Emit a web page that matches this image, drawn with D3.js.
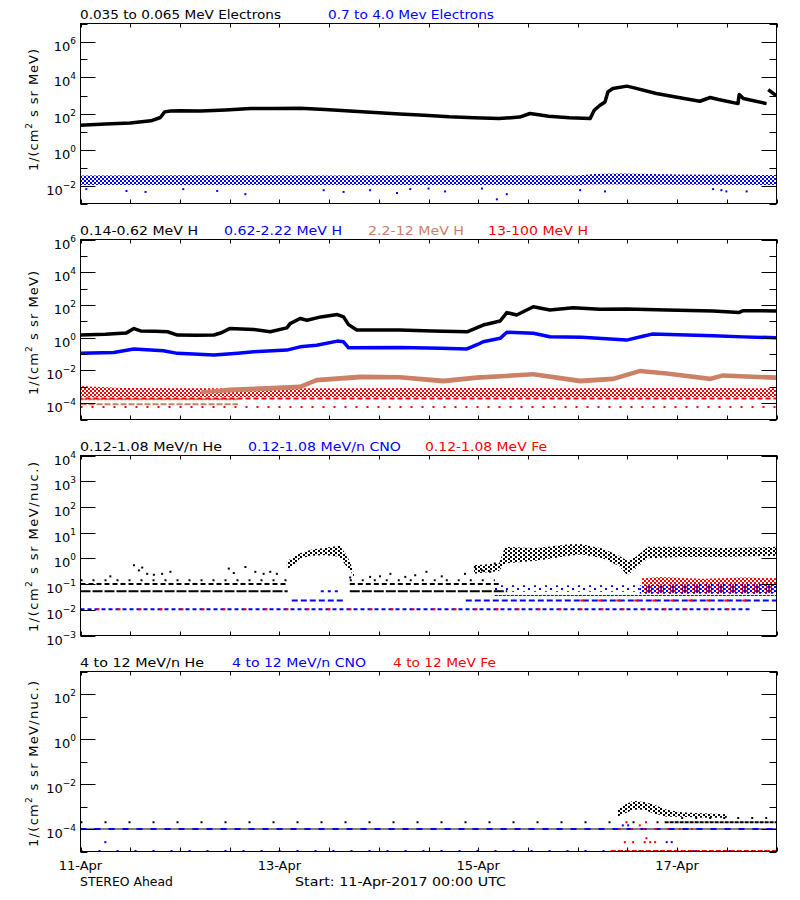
<!DOCTYPE html>
<html><head><meta charset="utf-8">
<script src="https://cdn.jsdelivr.net/npm/d3@7"></script>
<style>
body{margin:0;background:#fff}
svg{display:block}
text{font-family:"DejaVu Sans",sans-serif;font-size:13px}
</style>
</head><body>
<svg id="c" width="800" height="900"></svg>
<script>
// ================= DATA =================
const START = Date.UTC(2017, 3, 11);          // 11-Apr-2017 00:00 UTC
const SPAN_HOURS = 168;
const xTickHours = [0,12,24,36,48,60,72,84,96,108,120,132,144,156,168];
const xLabelHours = [0,48,96,144];

// ---- Panel 1: electrons ----
const p1Titles = ["0.035 to 0.065 MeV Electrons", "0.7 to 4.0 Mev Electrons"];
const eLowT = [0,6,12,17,19.3,20.3,21.7,24,29,35,41,47,53,59,65,71,77,83,89,95,101,106,108.5,111,113,118,123,124,125.4,126.6,127.3,128.5,131.9,133.4,139,144,149.5,152,154,158.7,159,160,165.6,165.8,166,168];
const eLowV = [22,26,30,39,60,123,138,141,138,158,190,190,195,166,138,115,93,79,65,58,52,63,100,83,71,58,52,151,288,437,1585,2455,3311,2754,1288,794,479,776,603,355,1122,676,355,null,2138,955];
const eHighT  = [0,30,60,90,120,124,130,145,168];
const eHighLo = [0.0105,0.0105,0.0105,0.0105,0.0105,0.0112,0.0115,0.011,0.0105];
const eHighHi = [0.036,0.037,0.036,0.037,0.036,0.044,0.046,0.041,0.038];
const eHighOutT = [1.4,11.1,15.7,24.8,33,39.8,58.7,63.5,69.9,76.4,79.6,84,88,96.9,102.9,100.5,120.6,126.6,152.7,154.7,155.9,160.8];
const eHighOutV = [0.0063,0.005,0.0044,0.0063,0.005,0.0033,0.0055,0.0044,0.0055,0.0038,0.0063,0.0068,0.0047,0.0068,0.0033,0.0017,0.0055,0.0047,0.0063,0.0055,0.0047,0.0047];

// ---- Panel 2: protons ----
const p2Titles = ["0.14-0.62 MeV H", "0.62-2.22 MeV H", "2.2-12 MeV H", "13-100 MeV H"];
const hLowT = [0,6,11,12.9,14.5,18,21,23.4,28,32.2,34,36,41.8,45.8,49.8,50.6,53,54.7,58,62,63.5,64.7,66.7,77,85,93.3,97.2,101.3,102.9,105.3,107.7,109.3,113.3,118.9,125.4,131.8,141.5,152.7,159,160,168];
const hLowV = [1.45,1.6,1.9,3.6,2.6,2.5,2.3,1.45,1.4,1.45,2.0,3.6,3.2,2.3,4.0,7.2,14.8,11.7,18.6,26,18.6,6.3,2.95,2.95,2.6,2.3,5.9,10.5,34,24.5,49,78,49,68,54,56,49,43,35,45,43];
const hMidT = [0,8,12.9,20,23.4,32.2,38,41.8,49.8,53,57,62,63.5,64.7,77,87,93.3,96,97.2,101.3,102.9,109.3,113.3,121,131.8,136,138,152.7,160,168];
const hMidV = [0.11,0.126,0.204,0.158,0.11,0.087,0.112,0.138,0.174,0.275,0.347,0.617,0.562,0.24,0.25,0.224,0.204,0.398,0.562,0.912,2.14,1.86,1.15,1.05,0.71,1.26,1.66,1.32,1.12,1.0];
const hHighT  = [29,36,45,53,57,67.5,77,87.6,95.7,109.3,120.6,128.6,135,141.5,152,155,168];
const hHighLo = [3.6e-4,4.5e-4,5.6e-4,7.1e-4,1.8e-3,2.8e-3,2.8e-3,1.6e-3,2.6e-3,4.2e-3,1.6e-3,2.2e-3,6.6e-3,4.8e-3,2.2e-3,3.5e-3,2.6e-3];
const hHighHi = [6.0e-4,8.9e-4,1.1e-3,1.4e-3,3.5e-3,5.6e-3,5.2e-3,3.2e-3,5.0e-3,7.9e-3,3.2e-3,4.2e-3,1.26e-2,8.9e-3,4.2e-3,6.6e-3,5.0e-3];
const hHighLevels = [[0,38,1.75e-4],[0,38,8.7e-5]];
const hVHighT  = [0,10,30,60,90,120,150,168];
const hVHighLo = [2.3e-4,2.4e-4,2.4e-4,2.4e-4,2.4e-4,2.4e-4,2.4e-4,2.4e-4];
const hVHighHi = [1.1e-3,8.5e-4,8e-4,8e-4,8.5e-4,8e-4,8.5e-4,8e-4];
const hVHighLevels = [[0,168,1.9e-4]];
const hVHighSparse = [[0,168,5.8e-5]];

// ---- Panel 3: 0.12-1.08 MeV/n ions ----
const p3Titles = ["0.12-1.08 MeV/n He", "0.12-1.08 MeV/n CNO", "0.12-1.08 MeV Fe"];
const he1Levels05 = [[0,50,0.052],[65,103,0.052]];
const he1Levels10 = [[0,50,0.1],[65,101,0.1]];
const he1Levels14 = [[0,50,0.14],[65,100,0.14]];
const he1ScatT = [7.2,12.9,14.1,14.9,16.1,17.7,19.7,21.7,35.8,37,39.8,42.2,44.2,45.8,47.4,65.1,69.9,72.3,74.8,78.4,80.8,83.5,87.2,92.8,95.2,96.9,98.9,100];
const he1ScatV = [0.2,0.54,0.34,0.44,0.25,0.23,0.25,0.3,0.4,0.27,0.46,0.3,0.25,0.3,0.25,0.18,0.19,0.2,0.25,0.19,0.22,0.3,0.2,0.25,0.46,0.34,0.3,0.63];
const he1BandT  = [49.8,51,53,56,59,62.5,64.3,65.2,66,80,95,101,102.5,110,118,121,126,130,132,134,137,145,155,168];
const he1BandLo = [0.4,0.45,1.0,1.26,1.32,1.15,0.46,0.32,0.18,null,0.25,0.32,0.63,0.8,1.26,1.4,1.0,0.5,0.22,0.4,1.0,1.12,1.12,1.26];
const he1BandHi = [0.79,1.0,1.58,2.24,2.5,3.16,1.32,0.63,0.25,null,0.54,0.63,2.8,2.5,3.5,3.5,2.4,1.26,0.8,1.12,2.8,2.8,2.5,2.8];
const cno1Levels01 = [[0,162,0.0106]];
const cno1Levels02 = [[51,64,0.023],[93,168,0.023]];
const cno1Levels03 = [[100,168,0.036]];
const cno1Levels05 = [[58,63,0.052]];
const cno1ScatT = [100,135], cno1ScatLo = [0.05,0.05], cno1ScatHi = [0.09,0.09];
const cno1BandT = [135,150,168], cno1BandLo = [0.042,0.042,0.042], cno1BandHi = [0.09,0.1,0.1];
const fe1Levels01 = [[0,160,0.0106]];
const fe1Levels02 = [[118,162,0.023]];
const fe1BandT = [135.5,140,150,160,168], fe1BandLo = [0.045,0.045,0.045,0.045,0.045], fe1BandHi = [0.17,0.19,0.16,0.18,0.17];

// ---- Panel 4: 4-12 MeV/n ions ----
const p4Titles = ["4 to 12 MeV/n He", "4 to 12 MeV/n CNO", "4 to 12 MeV Fe"];
const he4Line = [[0,168,1e-4]];
const he4Sparse = [[0,141,2e-4]];
const he4Dense = [[141,168,2e-4]];
const he4Sparse3 = [[145,168,3.1e-4]];
const he4BandT  = [129.5,131,133.4,136,138.2,141.5,145,150,156];
const he4BandLo = [3.5e-4,4.5e-4,7.1e-4,7.1e-4,5e-4,3.5e-4,3.5e-4,3.2e-4,3.2e-4];
const he4BandHi = [6.3e-4,1.1e-3,1.8e-3,1.6e-3,1.26e-3,7.1e-4,5.6e-4,5e-4,4.5e-4];
const cno4Line = [[0,168,1e-4]];
const cno4Bottom = [[0,168,1.05e-5]];
const cno4PtsT = [6,130.9,132.2,141.5,142.7];
const cno4PtsV = [2.6e-5,1.45e-4,1.45e-4,2.6e-5,2.6e-5];
const fe4Bottom = [[128,168,1.05e-5]];
const fe4Line = [[128,150,1e-4]];
const fe4PtsT = [131.4,133.4,136.2,137.5,138.7,136.6,131.8,136.5,135];
const fe4PtsV = [2.6e-5,2.6e-5,2.6e-5,2.6e-5,2.6e-5,3.9e-5,2e-4,2e-4,1.45e-4];

const yLabel1 = ["1/(cm", "2", " s sr MeV)"];
const yLabel2 = ["1/(cm", "2", " s sr MeV/nuc.)"];
const footer = ["STEREO Ahead", "Start: 11-Apr-2017 00:00 UTC"];

// ================= STYLE / LAYOUT =================
const BLACK="#000000", BLUE="#0000ff", BROWN="#cc8066", RED="#ff0000";
const X0 = 80.5, X1 = 776.5, PH = 180;

const svg = d3.select("#c");
const x = d3.scaleUtc().domain([new Date(START), new Date(START + SPAN_HOURS*3600e3)]).range([X0, X1]);
const hx = h => x(new Date(START + h*3600e3));
const defs = svg.append("defs");

function makePattern(id, color, w, h, cells){
  const p = defs.append("pattern").attr("id", id).attr("patternUnits","userSpaceOnUse")
    .attr("width", w).attr("height", h);
  cells.forEach(c => p.append("rect").attr("x",c[0]).attr("y",c[1]).attr("width",2).attr("height",2).attr("fill",color));
}
makePattern("pBlueDense", BLUE, 4, 4, [[0,0],[2,2]]);
makePattern("pBlackMed", BLACK, 5, 4, [[0,0],[3,2]]);
makePattern("pBrown", BROWN, 2, 2, [[0,0]]);
makePattern("pRed", RED, 4, 4, [[0,0],[2,2]]);
makePattern("pBlueSparse", BLUE, 11, 6, [[0,0],[6,3]]);
makePattern("pRedDense", RED, 4, 4, [[0,0],[2,2]]);
makePattern("pBlueMix", BLUE, 6, 4, [[3,0],[0,2]]);

const panels = [
  {top:23.5, domain:[1e-3,1e7], labels:[6,4,2,0,-2], decades:[-3,7], title:p1Titles,
   titleLayout:[[80,201,BLACK],[328,166,BLUE]], ylab:yLabel1, ylabY:110, ylabLen:122},
  {top:239.5, domain:[1e-5,1e6], labels:[6,4,2,0,-2,-4], decades:[-5,6], title:p2Titles,
   titleLayout:[[80,118,BLACK],[224,118,BLUE],[368,96,BROWN],[488,100,RED]], ylab:yLabel1, ylabY:333, ylabLen:124},
  {top:455.5, domain:[1e-3,1e4], labels:[4,3,2,1,0,-1,-2,-3], decades:[-3,4], title:p3Titles,
   titleLayout:[[80,142,BLACK],[248,153,BLUE],[425,122,RED]], ylab:yLabel2, ylabY:547, ylabLen:170},
  {top:671.5, domain:[1e-5,1e3], labels:[2,0,-2,-4], decades:[-5,3], title:p4Titles,
   titleLayout:[[80,124,BLACK],[232,134,BLUE],[393,103,RED]], ylab:yLabel2, ylabY:764, ylabLen:166}
];

panels.forEach((p,i) => {
  p.y = d3.scaleLog().domain(p.domain).range([p.top+PH, p.top]);
  const cid = "clip"+i;
  defs.append("clipPath").attr("id", cid).append("rect")
    .attr("x", X0).attr("y", p.top).attr("width", X1-X0).attr("height", PH);
  p.g = svg.append("g").attr("clip-path", `url(#${cid})`);
});

// ---- drawing helpers ----
function band(p, T, LO, HI, fill){
  const d = T.map((t,i)=>({t, lo:LO[i], hi:HI[i]}));
  const area = d3.area().defined(e=>e.lo!=null && e.hi!=null)
    .x(e=>hx(e.t)).y0(e=>p.y(e.lo)).y1(e=>p.y(e.hi));
  p.g.append("path").datum(d).attr("d", area).attr("fill", `url(#${fill})`);
}
function line(p, T, V, color, w){
  const d = T.map((t,i)=>({t, v:V[i]}));
  const ln = d3.line().defined(e=>e.v!=null).x(e=>hx(e.t)).y(e=>p.y(e.v));
  p.g.append("path").datum(d).attr("d", ln).attr("fill","none").attr("stroke",color)
    .attr("stroke-width", w).attr("stroke-linejoin","round");
}
function levels(p, segs, color, w, dash, offset){
  p.g.selectAll(null).data(segs).join("line")
    .attr("x1", s=>hx(s[0])).attr("x2", s=>hx(s[1]))
    .attr("y1", s=>p.y(s[2])).attr("y2", s=>p.y(s[2]))
    .attr("stroke", color).attr("stroke-width", w)
    .attr("stroke-dasharray", dash).attr("stroke-dashoffset", offset||0);
}
function points(p, T, V, color){
  p.g.selectAll(null).data(T.map((t,i)=>[t,V[i]])).join("rect")
    .attr("x", d=>hx(d[0])-1).attr("y", d=>p.y(d[1])-1).attr("width",2).attr("height",2).attr("fill",color);
}

// ---- Panel 1 ----
{
  const p = panels[0];
  band(p, eHighT, eHighLo, eHighHi, "pBlueDense");
  points(p, eHighOutT, eHighOutV, BLUE);
  line(p, eLowT, eLowV, BLACK, 3.5);
}
// ---- Panel 2 ----
{
  const p = panels[1];
  levels(p, hHighLevels, BROWN, 2, "6,2");
  band(p, hVHighT, hVHighLo, hVHighHi, "pRed");
  levels(p, hVHighLevels, RED, 2, "5,3", 3);
  levels(p, hVHighSparse, RED, 2, "2,9");
  band(p, hHighT, hHighLo, hHighHi, "pBrown");
  line(p, hMidT, hMidV, BLUE, 3.5);
  line(p, hLowT, hLowV, BLACK, 3.5);
}
// ---- Panel 3 ----
{
  const p = panels[2];
  levels(p, he1Levels05, BLACK, 2, "10,2");
  levels(p, he1Levels10, BLACK, 2, "5,3");
  levels(p, he1Levels14, BLACK, 2, "2,10");
  points(p, he1ScatT, he1ScatV, BLACK);
  levels(p, cno1Levels01, BLUE, 2, "4,3");
  levels(p, fe1Levels01, RED, 2, "3,18", 5);
  levels(p, cno1Levels02, BLUE, 2, "6,3");
  levels(p, fe1Levels02, RED, 2, "4,14", 7);
  levels(p, cno1Levels03, BLUE, 1, "3,1");
  levels(p, cno1Levels05, BLUE, 2, "3,4");
  band(p, cno1ScatT, cno1ScatLo, cno1ScatHi, "pBlueSparse");
  band(p, fe1BandT, fe1BandLo, fe1BandHi, "pRedDense");
  band(p, cno1BandT, cno1BandLo, cno1BandHi, "pBlueMix");
  band(p, he1BandT, he1BandLo, he1BandHi, "pBlackMed");
}
// ---- Panel 4 ----
{
  const p = panels[3];
  levels(p, he4Line, BLACK, 1, null);
  levels(p, cno4Line, BLUE, 2, "6,8");
  levels(p, fe4Line, RED, 2, "2,10", 4);
  levels(p, he4Sparse, BLACK, 2, "2,22");
  levels(p, he4Dense, BLACK, 2, "4,1");
  levels(p, he4Sparse3, BLACK, 2, "2,12");
  levels(p, cno4Bottom, BLUE, 2, "2,16");
  levels(p, fe4Bottom, RED, 2, "5,2");
  band(p, he4BandT, he4BandLo, he4BandHi, "pBlackMed");
  points(p, cno4PtsT, cno4PtsV, BLUE);
  points(p, fe4PtsT, fe4PtsV, RED);
}

// ---- axes, boxes, text ----
panels.forEach((p,i) => {
  const a = svg.append("g");
  const bottom = p.top + PH;
  a.append("rect").attr("x",X0).attr("y",p.top).attr("width",X1-X0).attr("height",PH)
    .attr("fill","none").attr("stroke",BLACK).attr("stroke-width",1);
  xTickHours.forEach(h => {
    const xx = Math.round(hx(h)) + 0.5;
    a.append("line").attr("x1",xx).attr("x2",xx).attr("y1",p.top).attr("y2",p.top+4).attr("stroke",BLACK);
    a.append("line").attr("x1",xx).attr("x2",xx).attr("y1",bottom).attr("y2",bottom-4).attr("stroke",BLACK);
  });
  d3.range(p.decades[0], p.decades[1]+1).forEach(e => {
    const yy = Math.round(p.y(Math.pow(10,e))) + 0.5;
    const major = p.labels.includes(e);
    const len = major ? 15 : 7;
    a.append("line").attr("x1",X0).attr("x2",X0+len).attr("y1",yy).attr("y2",yy).attr("stroke",BLACK);
    a.append("line").attr("x1",X1).attr("x2",X1-len).attr("y1",yy).attr("y2",yy).attr("stroke",BLACK);
    if (major){
      const t = a.append("text").attr("x",76).attr("y",yy+8).attr("text-anchor","end");
      t.append("tspan").text("10");
      t.append("tspan").attr("dy",-7).style("font-size","9px").text(e<0 ? "\u2212"+(-e) : String(e));
    }
  });
  p.title.forEach((s,k) => {
    const [tx, tw, col] = p.titleLayout[k];
    a.append("text").attr("x",tx).attr("y",p.top-5).attr("fill",col)
      .attr("textLength",tw).attr("lengthAdjust","spacingAndGlyphs").text(s);
  });
  const yl = a.append("text").attr("transform",`translate(38,${p.ylabY}) rotate(-90)`)
    .attr("text-anchor","middle").attr("textLength",p.ylabLen).attr("lengthAdjust","spacing");
  yl.append("tspan").text(p.ylab[0]);
  yl.append("tspan").attr("dy",-6).style("font-size","9px").text(p.ylab[1]);
  yl.append("tspan").attr("dy",6).text(p.ylab[2]);
});

xLabelHours.forEach(h => {
  svg.append("text").attr("x", hx(h)).attr("y", 870).attr("text-anchor","middle")
    .text(d3.utcFormat("%d-%b")(new Date(START + h*3600e3)));
});
svg.append("text").attr("x",80).attr("y",885.5).attr("textLength",93).attr("lengthAdjust","spacingAndGlyphs").text(footer[0]);
svg.append("text").attr("x",295).attr("y",885.5).attr("textLength",211).attr("lengthAdjust","spacingAndGlyphs").text(footer[1]);
</script>
</body></html>
